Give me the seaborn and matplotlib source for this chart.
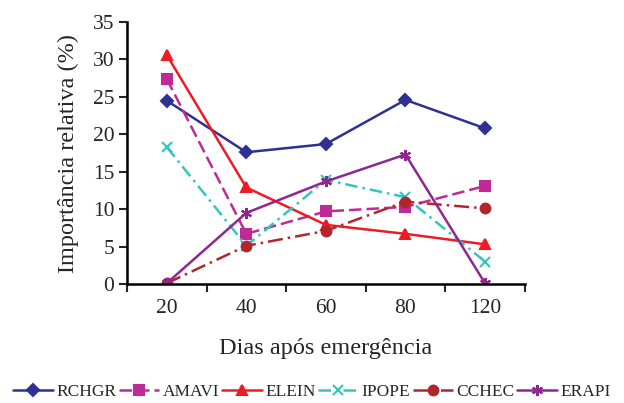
import matplotlib
matplotlib.use("Agg")
import matplotlib.pyplot as plt
import seaborn as sns
import pandas as pd
import numpy as np

days = ["20", "40", "60", "80", "120"]
RCHGR = [24.5, 17.6, 18.7, 24.6, 20.8]
AMAVI = [27.4, 6.7, 9.7, 10.3, 13.1]
ELEIN = [30.6, 12.9, 7.9, 6.7, 5.3]
IPOPE = [18.3, 5.1, 13.9, 11.6, 3.0]
CCHEC = [0.1, 5.1, 7.1, 11.0, 10.1]
ERAPI = [0.1, 9.5, 13.7, 17.3, 0.1]

series = {"RCHGR": RCHGR, "AMAVI": AMAVI, "ELEIN": ELEIN,
          "IPOPE": IPOPE, "CCHEC": CCHEC, "ERAPI": ERAPI}

sns.set_theme(style="ticks")
plt.rcParams["font.family"] = ["Liberation Serif", "DejaVu Serif"]

palette = {"RCHGR": "#2E3192", "AMAVI": "#BE2A96", "ELEIN": "#ED1C24",
           "IPOPE": "#33C6BE", "CCHEC": "#B0262C", "ERAPI": "#8E278F"}
markers = {"RCHGR": "D", "AMAVI": "s", "ELEIN": "^", "IPOPE": "x",
           "CCHEC": "o", "ERAPI": (6, 2, 0)}
dashes = {"RCHGR": (None, None), "AMAVI": (5, 2), "ELEIN": (None, None),
          "IPOPE": (5, 2, 1, 2), "CCHEC": (6, 2, 1, 2), "ERAPI": (None, None)}
msizes = {"RCHGR": 6, "AMAVI": 7, "ELEIN": 7, "IPOPE": 7, "CCHEC": 7, "ERAPI": 8}

fig = plt.figure(figsize=(6.24, 4.03), dpi=100)
ax = fig.add_axes([0.2035, 0.2953, 0.6375, 0.65])
handles = []
for n, vals in series.items():
    d = pd.DataFrame({"pos": np.arange(len(days)), "val": vals})
    sns.lineplot(data=d, x="pos", y="val", color=palette[n], marker=markers[n],
                 markersize=msizes[n], markeredgewidth=1.5,
                 markeredgecolor=palette[n], linewidth=1.8, ax=ax, label=n)
    ln = ax.lines[-1]
    if dashes[n] != (None, None):
        ln.set_dashes(dashes[n])
    handles.append(ln)

ax.set_xlim(-0.5, len(days) - 0.5)
ax.set_ylim(0, 35)
ax.set_yticks(np.arange(0, 36, 5))
ax.set_xticks(range(len(days)))
ax.set_xticklabels(days)
ax.set_xticks(np.arange(-0.5, len(days), 1), minor=True)
ax.tick_params(axis="x", which="major", length=0, labelsize=15.5, pad=11)
ax.tick_params(axis="x", which="minor", length=6, width=1.5, direction="out")
ax.tick_params(axis="y", length=6, width=1.5, direction="out", labelsize=15.5, pad=3)
for s in ["top", "right"]:
    ax.spines[s].set_visible(False)
for s in ["left", "bottom"]:
    ax.spines[s].set_linewidth(1.8)
    ax.spines[s].set_color("black")
ax.set_xlabel("Dias após emergência", fontsize=17.5, labelpad=14)
ax.set_ylabel("Importância relativa (%)", fontsize=17.5, labelpad=10)

ax.get_legend().remove()
fig.legend(handles, list(series.keys()), loc="center", bbox_to_anchor=(0.5, 0.027),
           ncol=6, frameon=False, fontsize=12.5, handlelength=2.3,
           handletextpad=0.2, columnspacing=0.15, borderaxespad=0)

fig.savefig("out.png", dpi=100)
